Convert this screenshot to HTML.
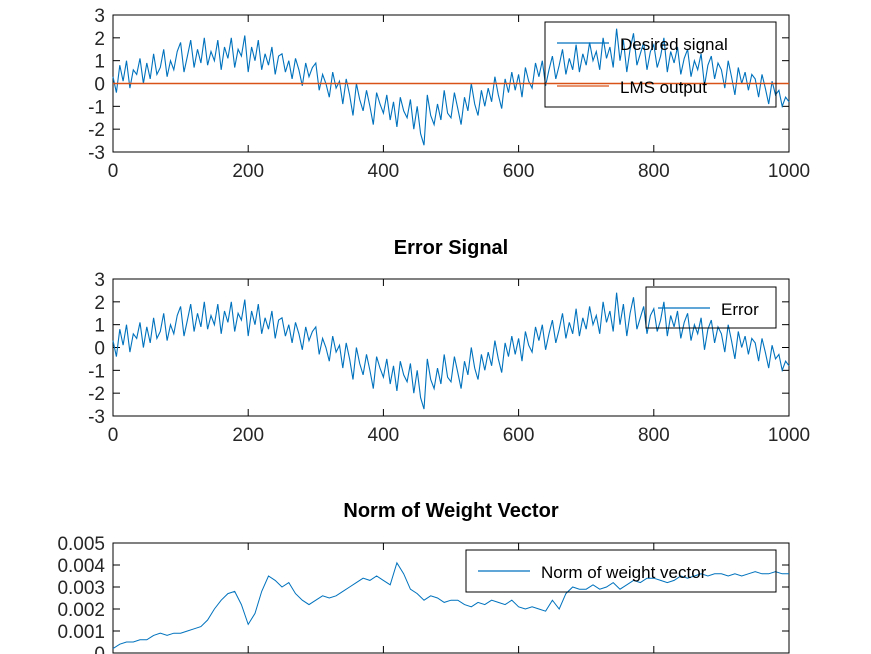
<!DOCTYPE html>
<html><head><meta charset="utf-8"><style>
html,body{margin:0;padding:0;background:#fff;}
svg{display:block;font-family:"Liberation Sans",sans-serif;}
</style></head><body>
<svg id="fig" width="871" height="654" viewBox="0 0 871 654"></svg>
<script>
const sampleStep = 5;
const desired = [
0.3,-0.4,0.8,0.1,1.0,-0.2,0.6,0.4,1.1,0.0,
0.9,0.2,1.3,0.4,0.7,1.5,0.3,1.0,0.6,1.4,
1.8,0.5,1.2,1.9,0.7,1.5,0.9,2.0,0.8,1.4,
1.0,1.9,0.6,1.6,1.1,2.0,0.7,1.5,1.2,2.1,
0.5,1.6,1.0,1.9,0.6,1.3,0.8,1.6,0.4,1.2,
1.3,0.5,1.0,0.2,1.1,0.6,-0.1,0.9,0.3,0.7,
0.9,-0.3,0.4,0.0,-0.6,0.5,-0.2,0.1,-0.9,0.2,
-0.5,-1.4,0.0,-0.7,-1.2,-0.3,-1.0,-1.8,-0.4,-0.9,
-1.3,-0.5,-1.6,-0.8,-1.9,-0.6,-1.2,-1.5,-0.7,-2.0,
-1.0,-2.2,-2.7,-0.5,-1.4,-1.8,-0.9,-1.6,-0.3,-1.3,
-1.5,-0.4,-1.1,-1.8,-0.6,-1.2,0.0,-0.9,-1.4,-0.3,
-1.0,-0.2,-0.8,0.3,-0.5,-1.1,0.2,-0.4,0.5,-0.3,
0.4,-0.6,0.7,0.1,-0.2,0.9,0.3,1.0,-0.1,0.6,
1.2,0.2,0.8,1.5,0.4,1.1,0.6,1.7,0.5,1.3,
0.8,1.8,1.0,1.4,0.6,2.0,1.1,1.6,0.7,2.4,
1.0,1.9,0.5,1.5,2.2,0.8,1.3,1.8,0.6,1.4,
1.7,0.7,1.2,2.0,0.5,1.4,0.9,1.6,0.4,1.1,
1.5,0.3,1.0,0.6,1.3,-0.1,0.8,1.2,0.2,0.9,
0.6,-0.2,1.0,0.3,-0.5,0.7,0.0,0.5,-0.3,0.4,
0.2,-0.6,0.4,-0.2,-0.9,0.1,-0.5,-0.3,-1.0,-0.6,-0.8];
const lmsOutput = [0.0, 0.0];
const errorSig = desired.slice();
const normStep = 10;
const normW = [
0.0002,0.0004,0.0005,0.0005,0.0006,0.0006,0.0008,0.0009,0.0008,0.0009,
0.0009,0.001,0.0011,0.0012,0.0015,0.0020,0.0024,0.0027,0.0028,0.0022,
0.0013,0.0018,0.0028,0.0035,0.0033,0.0030,0.0032,0.0027,0.0024,0.0022,
0.0024,0.0026,0.0025,0.0026,0.0028,0.0030,0.0032,0.0034,0.0033,0.0035,
0.0033,0.0031,0.0041,0.0036,0.0029,0.0027,0.0024,0.0026,0.0025,0.0023,
0.0024,0.0024,0.0022,0.0021,0.0023,0.0022,0.0024,0.0023,0.0022,0.0024,
0.0021,0.0020,0.0021,0.0020,0.0019,0.0024,0.0020,0.0027,0.0030,0.0029,
0.0029,0.0031,0.0029,0.0030,0.0032,0.0029,0.0031,0.0033,0.0032,0.0034,
0.0034,0.0033,0.0032,0.0033,0.0035,0.0034,0.0035,0.0036,0.0035,0.0036,
0.0036,0.0035,0.0036,0.0035,0.0036,0.0037,0.0036,0.0036,0.0037,0.0036,0.0036];
const xTicks = [0,200,400,600,800,1000];
const sigTicks = [3,2,1,0,-1,-2,-3];
const normTicks = ["0.005","0.004","0.003","0.002","0.001","0"];

const NS="http://www.w3.org/2000/svg";
const svg=document.getElementById('fig');
function el(tag,attrs,parent){const e=document.createElementNS(NS,tag);for(const k in attrs)e.setAttribute(k,attrs[k]);(parent||svg).appendChild(e);return e;}

function axes(name,top,bottom,ymin,ymax,yt,showX){
  const L=113,R=789;
  const g=el('g',{});
  
  
  const xs=v=>L+(v/1000)*(R-L);
  const ys=v=>bottom-(v-ymin)/(ymax-ymin)*(bottom-top);
  el('rect',{x:L,y:top,width:R-L,height:bottom-top,fill:'none',stroke:'#000','stroke-width':1},g);
  xTicks.forEach(v=>{
    el('line',{x1:xs(v),x2:xs(v),y1:bottom,y2:bottom-7,stroke:'#000'},g);
    el('line',{x1:xs(v),x2:xs(v),y1:top,y2:top+7,stroke:'#000'},g);
    if(showX){const t=el('text',{x:xs(v),y:bottom+25,'text-anchor':'middle','font-size':19,fill:'#262626'},g);t.textContent=v;
    
    }
  });
  yt.forEach(s=>{const v=parseFloat(s);
    el('line',{x1:L,x2:L+7,y1:ys(v),y2:ys(v),stroke:'#000'},g);
    el('line',{x1:R,x2:R-7,y1:ys(v),y2:ys(v),stroke:'#000'},g);
    const t=el('text',{x:L-8,y:ys(v)+7,'text-anchor':'end','font-size':19,fill:'#262626'},g);t.textContent=s;
    
    
  });
  return {g,xs,ys};
}
function series(ax,arr,step,color,name,w){
  const pts=arr.map((v,i)=>ax.xs(Math.min(i*step,1000)).toFixed(1)+','+ax.ys(v).toFixed(1)).join(' ');
  const p=el('polyline',{points:pts,fill:'none',stroke:color,'stroke-width':w||1},ax.g);
  
  
}
function legend(name,x,y,w,h,items){
  const g=el('g',{});
  
  
  el('rect',{x,y,width:w,height:h,fill:'none',stroke:'#000'},g);
  items.forEach((it,i)=>{const cy=y+21+i*43;
    el('line',{x1:x+12,x2:x+64,y1:cy,y2:cy,stroke:it[1],'stroke-width':1.3},g);
    const t=el('text',{x:x+75,y:cy+7,'font-size':17,fill:'#000'},g);t.textContent=it[0];
    
    
  });
}
function title(txt,y,name){const t=el('text',{x:451,y,'text-anchor':'middle','font-size':20,'font-weight':'bold',fill:'#000'});t.textContent=txt;
  
  }

const a1=axes('desired-vs-lms-plot',15,152,-3,3,sigTicks.map(String),true);
series(a1,desired,sampleStep,'#0072bd','desired-signal-line',1.1);
series(a1,lmsOutput,1000,'#d95319','lms-output-line',1.5);
legend('legend-top',545,22,231,85,[['Desired signal','#0072bd'],['LMS output','#d95319']]);

title('Error Signal',254,'error-signal-title');
const a2=axes('error-plot',279,416,-3,3,sigTicks.map(String),true);
series(a2,errorSig,sampleStep,'#0072bd','error-line',1.1);
legend('legend-error',646,287,130,41,[['Error','#0072bd']]);

title('Norm of Weight Vector',517,'norm-title');
const a3=axes('norm-plot',543,653,0,0.005,normTicks,false);
series(a3,normW,normStep,'#0072bd','norm-line');
legend('legend-norm',466,550,310,42,[['Norm of weight vector','#0072bd']]);
</script>
</body></html>
